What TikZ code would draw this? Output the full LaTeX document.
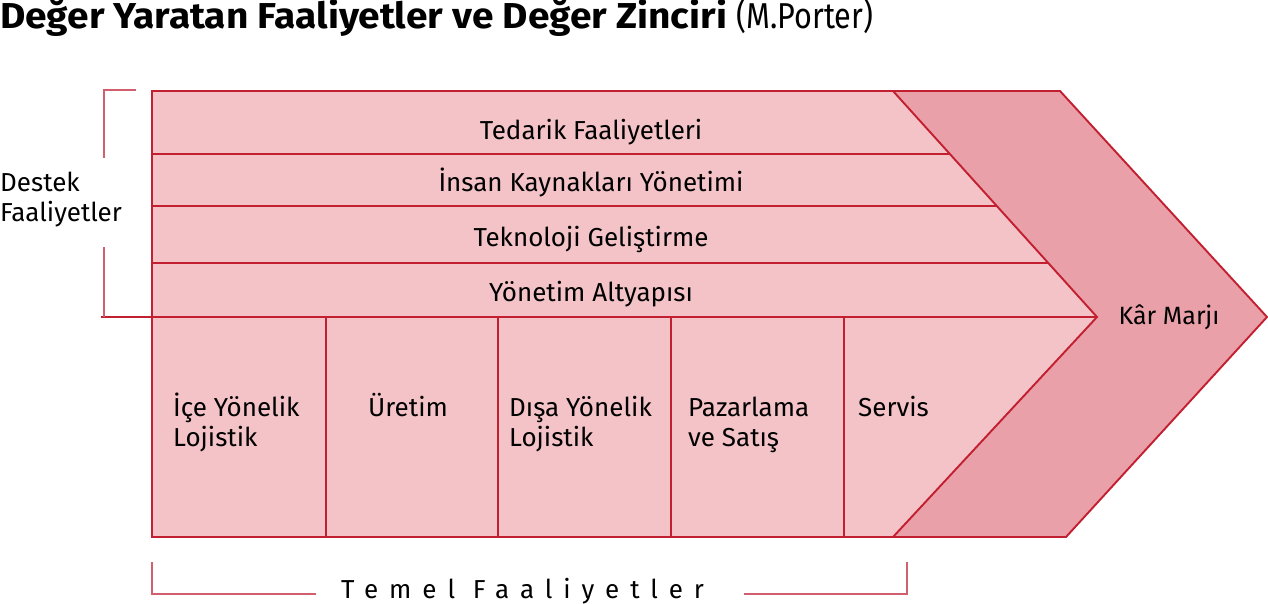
\documentclass[tikz,border=0pt]{standalone}
\usepackage{fontspec}
\setmainfont{Fira Sans}
\usetikzlibrary{positioning, calc}
\definecolor{vcfill}{HTML}{F4C3C7}
\definecolor{vcmargin}{HTML}{E9A0A8}
\definecolor{vcline}{HTML}{C21F30}
\definecolor{vcbrace}{HTML}{D0606E}

\begin{document}
\begin{tikzpicture}[x=1pt, y=-1pt, font=\fontsize{26}{30}\selectfont,
    edge/.style={draw=vcline, line width=1.9pt},
    brace/.style={draw=vcbrace, line width=1.4pt},
    sup/.style={inner sep=0pt, anchor=base},
    prim/.style={inner sep=0pt, align=left, anchor=base west}]
  \useasboundingbox (0,0) rectangle (1268,604);
  % corners of the chain
  \coordinate (tl) at (152,91);
  \coordinate (bl) at (152,537);
  \coordinate (nt) at (893,91);
  \coordinate (nb) at (893,537);
  \coordinate (nm) at (1097,317);
  \coordinate (ot) at (1060,91);
  \coordinate (ob) at (1066,537);
  \coordinate (tip) at (1267,317);
  \fill[vcmargin] (nt) -- (ot) -- (tip) -- (ob) -- (nb) -- (nm) -- cycle;
  \fill[vcfill] (tl) -- (nt) -- (nm) -- (nb) -- (bl) -- cycle;
  % support rows and primary columns
  \foreach \y in {154,206,263}
    \draw[edge] (152,\y) -- ($(nt)!{(\y-91)/226}!(nm)$);
  \coordinate (split) at (101,317);
  \draw[edge] (split) -- (nm);
  \foreach \x in {326,498,671,844}
    \draw[edge] (\x,317) -- (\x,537);
  \draw[edge] (tl) -- (ot) -- (tip) -- (ob) -- (bl) -- cycle;
  \draw[edge] (nt) -- (nm) -- (nb);
  % brackets
  \draw[brace] (136,90) -- (104,90) -- (104,158);
  \draw[brace] (104,247) -- (104,317);
  \draw[brace] (152,562) -- (152,594) -- (316,594);
  \draw[brace] (744,594) -- (907,594) -- (907,562);

  \node[anchor=base west, inner sep=0pt, font=\fontsize{36}{42}\selectfont] (title) at (0,29)
    {\bfseries\addfontfeatures{FakeStretch=1.08}Değer Yaratan Faaliyetler ve Değer Zinciri
     \mdseries\addfontfeatures{FakeStretch=0.85}(M.Porter)};
  \node[sup] (tedarik) at (591,140) {Tedarik Faaliyetleri};
  \node[sup] (insan) at (591,192) {İnsan Kaynakları Yönetimi};
  \node[sup] (tekno) at (591,246) {Teknoloji Geliştirme};
  \node[sup] (altyapi) at (591,301) {Yönetim Altyapısı};
  \node[sup, font=\fontsize{25}{30}\selectfont] (kar) at (1169,324) {Kâr Marjı};
  \node[prim] (destek) at (0,222) {Destek\\Faaliyetler};
  \node[prim] (ice) at (173,446) {İçe Yönelik\\Lojistik};
  \node[prim] (uretim) at (368,416) {Üretim};
  \node[prim] (disa) at (509,446) {Dışa Yönelik\\Lojistik};
  \node[prim] (pazar) at (688,446) {Pazarlama\\ve Satış};
  \node[prim] (servis) at (858,416) {Servis};
  \node[anchor=base west, inner sep=0pt] (temel) at (341,598)
    {\addfontfeatures{LetterSpace=42}Temel Faaliyetler};
\end{tikzpicture}
\end{document}
